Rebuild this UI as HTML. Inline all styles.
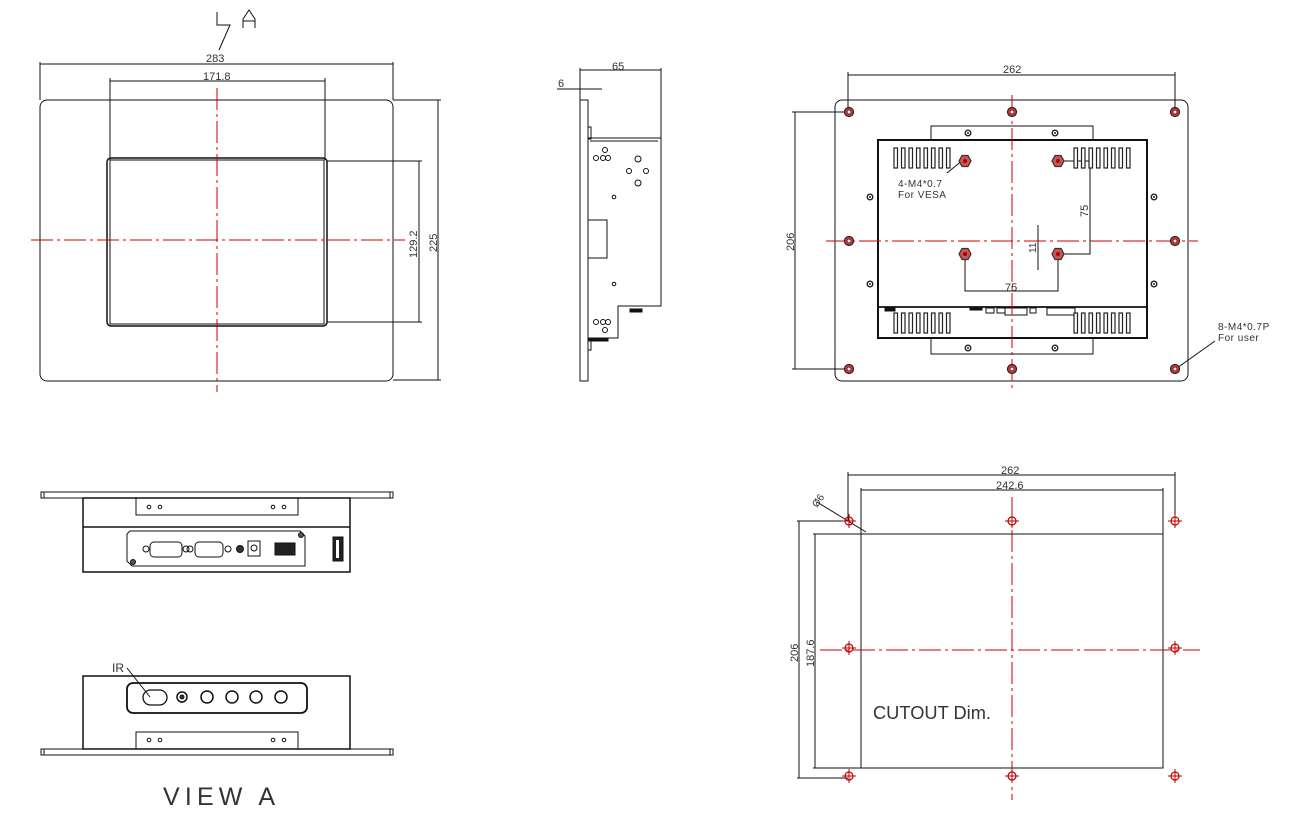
<!DOCTYPE html>
<html><head><meta charset="utf-8"><style>
html,body{margin:0;padding:0;background:#fff;}
svg{display:block;}
text{font-family:"Liberation Sans",sans-serif;fill:#333;}
</style></head><body>
<svg width="1311" height="828" viewBox="0 0 1311 828" xmlns="http://www.w3.org/2000/svg">
<defs>
<g id="mh"><circle r="4.5" fill="#c44" stroke="#222" stroke-width="1.2"/><circle r="2" fill="#fff" stroke="#a00" stroke-width="1"/></g>
<g id="vh"><polygon points="-6,0 -3,-5.5 3,-5.5 6,0 3,5.5 -3,5.5" fill="#c55" stroke="#333" stroke-width="1.2"/><circle r="2" fill="#a00"/></g>
<g id="sc"><circle r="2.8" fill="#fff" stroke="#222" stroke-width="1.4"/><circle r="1" fill="#222"/></g>
<g id="ch"><circle r="4" fill="none" stroke="#b00" stroke-width="1.2"/><line x1="-7" y1="0" x2="7" y2="0" stroke="#b00" stroke-width="1"/><line x1="0" y1="-7" x2="0" y2="7" stroke="#b00" stroke-width="1"/></g>
<g id="slot"><rect x="0" y="0" width="3.5" height="20" fill="#fff" stroke="#222" stroke-width="1.2"/></g>
<g id="vent"><use href="#slot" x="0"/><use href="#slot" x="7.5"/><use href="#slot" x="15"/><use href="#slot" x="22.5"/><use href="#slot" x="30"/><use href="#slot" x="37.5"/><use href="#slot" x="45"/><use href="#slot" x="52.5"/></g>
</defs>

<g fill="none" stroke="#111" stroke-width="1">
<!-- FRONT VIEW -->
<rect x="40" y="100" width="353" height="281" rx="7"/>
<rect x="107" y="158" width="220" height="168" rx="4" stroke-width="1.5"/>
<rect x="110" y="160" width="214" height="164" stroke-width="1"/>
<line x1="40" y1="62" x2="40" y2="100"/><line x1="393" y1="62" x2="393" y2="100"/>
<line x1="40" y1="64" x2="393" y2="64"/>
<line x1="110" y1="78" x2="110" y2="160"/><line x1="325" y1="78" x2="325" y2="160"/>
<line x1="110" y1="81" x2="325" y2="81"/>
<line x1="327" y1="161" x2="422" y2="161"/><line x1="327" y1="322" x2="422" y2="322"/>
<line x1="419" y1="161" x2="419" y2="322"/>
<line x1="393" y1="100" x2="441" y2="100"/><line x1="393" y1="380" x2="441" y2="380"/>
<line x1="438" y1="100" x2="438" y2="380"/>
<polyline points="217,12 217,25 230,25 219,50"/>
<polyline points="243,28 243,19 249,10 255,19 255,28"/><line x1="243" y1="21" x2="255" y2="21"/>

<!-- SIDE VIEW -->
<rect x="580" y="100" width="8" height="281"/>
<polyline points="588,138 661,138 661,306 618,306 618,338 588,338"/>
<line x1="590" y1="141" x2="658" y2="141"/>
<rect x="588" y="127" width="3" height="12"/>
<rect x="588" y="338" width="3" height="12"/>
<rect x="588" y="338" width="20" height="3" fill="#111"/>
<path d="M588,220 H607 V258 H588"/>
<rect x="630" y="309" width="12" height="3" fill="#111"/>
<line x1="580" y1="68" x2="580" y2="100"/><line x1="661" y1="68" x2="661" y2="138"/>
<line x1="580" y1="70" x2="661" y2="70"/>
<line x1="557" y1="89" x2="602" y2="89"/>
<circle cx="596" cy="158" r="2.5"/><circle cx="603" cy="158" r="2.5"/><circle cx="608" cy="158" r="2.5"/><circle cx="605" cy="150" r="2.5"/>
<circle cx="596" cy="322" r="2.5"/><circle cx="603" cy="322" r="2.5"/><circle cx="608" cy="322" r="2.5"/><circle cx="605" cy="330" r="2.5"/>
<circle cx="638" cy="159" r="3"/><circle cx="638" cy="183" r="3"/><circle cx="629" cy="171" r="2.5"/><circle cx="646" cy="171" r="2.5"/>
<circle cx="614" cy="197" r="1.8"/><circle cx="614" cy="284" r="1.8"/>

<!-- BACK VIEW -->
<rect x="835" y="100" width="353" height="281" rx="7"/>
<rect x="931" y="126" width="162" height="14"/>
<rect x="931" y="338" width="162" height="16"/>
<rect x="878" y="140" width="269" height="198" stroke-width="2"/>
<line x1="878" y1="307" x2="1147" y2="307" stroke-width="1.8"/>
<line x1="848" y1="72" x2="848" y2="112"/><line x1="1175" y1="72" x2="1175" y2="112"/>
<line x1="848" y1="75" x2="1175" y2="75"/>
<line x1="792" y1="112" x2="848" y2="112"/><line x1="792" y1="369" x2="848" y2="369"/>
<line x1="795" y1="112" x2="795" y2="369"/>
<polyline points="1058,161 1090,161 1090,254 1058,254"/>
<polyline points="965,254 965,291 1058,291 1058,254"/>
<line x1="1038" y1="225" x2="1038" y2="270"/>
<line x1="947" y1="173" x2="963" y2="160"/>
<line x1="1215" y1="341" x2="1177" y2="368"/>
<rect x="885" y="308" width="10" height="3" fill="#111"/><rect x="970" y="308" width="12" height="2" fill="#111"/>
<rect x="986" y="308" width="8" height="5"/><rect x="997" y="308" width="8" height="5"/><rect x="1005" y="308" width="22" height="7"/><rect x="1030" y="308" width="6" height="5"/><rect x="1047" y="308" width="28" height="7"/>

<!-- VIEW A top -->
<rect x="41" y="492" width="352" height="6"/>
<line x1="44" y1="492" x2="44" y2="498"/><line x1="390" y1="492" x2="390" y2="498"/>
<rect x="83" y="498" width="267" height="74" stroke-width="1.5"/>
<line x1="83" y1="527" x2="350" y2="527" stroke-width="1.5"/>
<rect x="136" y="498" width="162" height="17"/>
<circle cx="149" cy="507" r="1.8"/><circle cx="160" cy="507" r="1.8"/><circle cx="273" cy="507" r="1.8"/><circle cx="284" cy="507" r="1.8"/>
<path d="M130,531 H300 L305,536 V566 H132 L127,561 V534 Z"/>
<rect x="150" y="542" width="32" height="15" rx="4"/><rect x="195" y="542" width="28" height="15" rx="4"/>
<circle cx="146" cy="549" r="3"/><circle cx="186" cy="549" r="3"/><circle cx="190" cy="549" r="3"/><circle cx="228" cy="549" r="3"/>
<circle cx="240" cy="549" r="3.5" fill="#333"/>
<rect x="248" y="541" width="12" height="15"/><circle cx="254" cy="548" r="3"/>
<rect x="275" y="543" width="20" height="12" fill="#222"/>
<rect x="333" y="537" width="10" height="24" fill="#222"/><rect x="336" y="540" width="3" height="18" fill="#fff" stroke="none"/>
<circle cx="301" cy="535" r="2.5" fill="#555"/><circle cx="133" cy="562" r="2.5" fill="#555"/>

<!-- VIEW A bottom -->
<rect x="83" y="676" width="267" height="73" stroke-width="1.5"/>
<rect x="41" y="749" width="352" height="6"/>
<line x1="44" y1="749" x2="44" y2="755"/><line x1="390" y1="749" x2="390" y2="755"/>
<rect x="136" y="732" width="162" height="17"/>
<circle cx="149" cy="740" r="1.8"/><circle cx="160" cy="740" r="1.8"/><circle cx="273" cy="740" r="1.8"/><circle cx="284" cy="740" r="1.8"/>
<rect x="127" y="683" width="180" height="30" rx="6" stroke-width="1.8"/>
<rect x="143" y="690" width="24" height="15" rx="7.5" stroke-width="1.3"/>
<circle cx="182" cy="697" r="5" stroke-width="1.5"/><circle cx="182" cy="697" r="2" fill="#333"/>
<circle cx="207" cy="697" r="6" stroke-width="1.5"/><circle cx="232" cy="697" r="6" stroke-width="1.5"/><circle cx="256" cy="697" r="6" stroke-width="1.5"/><circle cx="281" cy="697" r="6" stroke-width="1.5"/>
<line x1="127" y1="668" x2="150" y2="697"/>

<!-- CUTOUT -->
<rect x="861" y="534" width="302" height="234"/>
<line x1="848" y1="472" x2="848" y2="521"/><line x1="1175" y1="472" x2="1175" y2="521"/>
<line x1="848" y1="475" x2="1175" y2="475"/>
<line x1="861" y1="488" x2="861" y2="534"/><line x1="1163" y1="488" x2="1163" y2="534"/>
<line x1="861" y1="490" x2="1163" y2="490"/>
<line x1="797" y1="521" x2="848" y2="521"/><line x1="797" y1="778" x2="848" y2="778"/>
<line x1="799" y1="521" x2="799" y2="778"/>
<line x1="813" y1="534" x2="861" y2="534"/><line x1="813" y1="768" x2="861" y2="768"/>
<line x1="815" y1="534" x2="815" y2="768"/>
<line x1="817" y1="502" x2="866" y2="532"/>
</g>

<!-- red center lines -->
<g stroke="#c00" stroke-width="1" stroke-dasharray="22,4,3,4" fill="none">
<line x1="217" y1="88" x2="217" y2="392"/><line x1="31" y1="240" x2="405" y2="240"/>
<line x1="1012" y1="95" x2="1012" y2="390"/><line x1="826" y1="241" x2="1198" y2="241"/>
<line x1="1012" y1="497" x2="1012" y2="800"/><line x1="820" y1="650" x2="1200" y2="650"/>
</g>

<!-- holes -->
<use href="#mh" x="849" y="112"/><use href="#mh" x="1012" y="112"/><use href="#mh" x="1175" y="112"/>
<use href="#mh" x="849" y="241"/><use href="#mh" x="1175" y="241"/>
<use href="#mh" x="849" y="369"/><use href="#mh" x="1012" y="369"/><use href="#mh" x="1175" y="369"/>
<use href="#vh" x="965" y="161"/><use href="#vh" x="1058" y="161"/><use href="#vh" x="965" y="254"/><use href="#vh" x="1058" y="254"/>
<use href="#sc" x="870" y="197"/><use href="#sc" x="1154" y="197"/><use href="#sc" x="870" y="284"/><use href="#sc" x="1154" y="284"/>
<use href="#sc" x="968" y="133"/><use href="#sc" x="1055" y="133"/><use href="#sc" x="968" y="348"/><use href="#sc" x="1055" y="348"/>
<use href="#vent" x="894" y="148"/><use href="#vent" x="1074" y="148"/>
<use href="#vent" x="894" y="313"/><use href="#vent" x="1074" y="313"/>
<use href="#ch" x="849" y="521"/><use href="#ch" x="1012" y="521"/><use href="#ch" x="1175" y="521"/>
<use href="#ch" x="849" y="648"/><use href="#ch" x="1175" y="648"/>
<use href="#ch" x="849" y="776"/><use href="#ch" x="1012" y="776"/><use href="#ch" x="1175" y="776"/>

<!-- text -->
<g font-size="11">
<text x="206" y="62">283</text>
<text x="203" y="80">171.8</text>
<text transform="translate(417,258) rotate(-90)">129.2</text>
<text transform="translate(437,252) rotate(-90)">225</text>
<text x="612" y="70">65</text>
<text x="558" y="87">6</text>
<text x="1003" y="73">262</text>
<text transform="translate(794,251) rotate(-90)">206</text>
<text transform="translate(1088,217) rotate(-90)">75</text>
<text transform="translate(1036,253) rotate(-90)" font-size="10">11</text>
<text x="1005" y="291">75</text>
<text x="898" y="187" font-size="10" letter-spacing="0.5">4-M4*0.7</text>
<text x="898" y="198" font-size="10" letter-spacing="0.5">For VESA</text>
<text x="1218" y="330" font-size="10" letter-spacing="0.5">8-M4*0.7P</text>
<text x="1218" y="341" font-size="10" letter-spacing="0.5">For user</text>
<text x="1001" y="474">262</text>
<text x="996" y="489">242.6</text>
<text transform="translate(798,662) rotate(-90)">206</text>
<text transform="translate(814,667) rotate(-90)">187.6</text>
<text transform="translate(817,508) rotate(-55)" font-size="10">Ø6</text>
<text x="112" y="672" font-size="12">IR</text>
<text x="873" y="719" font-size="18" textLength="118" lengthAdjust="spacingAndGlyphs">CUTOUT  Dim.</text>
<text x="163" y="805" font-size="25" textLength="112" lengthAdjust="spacing">VIEW A</text>
</g>
</svg>
</body></html>
